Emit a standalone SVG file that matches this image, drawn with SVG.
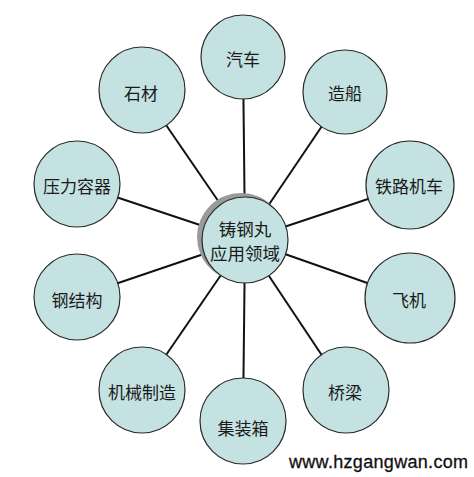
<svg xmlns="http://www.w3.org/2000/svg" width="474" height="477" viewBox="0 0 474 477">
<style>
.n{fill:#c5e2e2;stroke:#2a2a2a;stroke-width:1.2}
.t{font-family:"Noto Sans CJK SC","Noto Sans CJK JP",sans-serif;font-size:17px;fill:#1a1a1a;text-anchor:middle;dominant-baseline:central}
.c{stroke:#111;stroke-width:2}
</style>
<rect width="474" height="477" fill="#fff"/>
<g id="connectors">
<line class="c" x1="245" y1="240" x2="243" y2="57"/>
<line class="c" x1="245" y1="240" x2="345" y2="92"/>
<line class="c" x1="245" y1="240" x2="410" y2="185"/>
<line class="c" x1="245" y1="240" x2="410" y2="298"/>
<line class="c" x1="245" y1="240" x2="345" y2="390"/>
<line class="c" x1="245" y1="240" x2="243" y2="421"/>
<line class="c" x1="245" y1="240" x2="142" y2="390"/>
<line class="c" x1="245" y1="240" x2="77" y2="297"/>
<line class="c" x1="245" y1="240" x2="77" y2="184"/>
<line class="c" x1="245" y1="240" x2="142" y2="90"/>
</g>
<g id="center">
<circle cx="241" cy="237" r="44" fill="#9a9a9a"/>
<circle class="n" cx="245" cy="240" r="43"/>
<text class="t" x="245" y="228" style="font-size:17.5px">铸钢丸</text>
<text class="t" x="245" y="252" style="font-size:17.5px">应用领域</text>
</g>
<g id="n1"><circle class="n" cx="243" cy="57" r="42"/><text class="t" x="243" y="58">汽车</text></g>
<g id="n2"><circle class="n" cx="345" cy="92" r="42"/><text class="t" x="345" y="92">造船</text></g>
<g id="n3"><circle class="n" cx="410" cy="185" r="44"/><text class="t" x="409" y="185">铁路机车</text></g>
<g id="n4"><circle class="n" cx="410" cy="298" r="45"/><text class="t" x="409" y="299">飞机</text></g>
<g id="n5"><circle class="n" cx="346" cy="390" r="43"/><text class="t" x="345" y="391">桥梁</text></g>
<g id="n6"><circle class="n" cx="243" cy="421" r="43"/><text class="t" x="243" y="427">集装箱</text></g>
<g id="n7"><circle class="n" cx="142" cy="390" r="43"/><text class="t" x="142" y="391">机械制造</text></g>
<g id="n8"><circle class="n" cx="77" cy="297" r="43"/><text class="t" x="77" y="299">钢结构</text></g>
<g id="n9"><circle class="n" cx="77" cy="184" r="43"/><text class="t" x="77" y="185">压力容器</text></g>
<g id="n10"><circle class="n" cx="142" cy="90" r="43"/><text class="t" x="141" y="92">石材</text></g>
<text x="289" y="468" font-family="Liberation Sans, Arial, sans-serif" font-size="18" fill="#111" stroke="#111" stroke-width="0.3" textLength="179">www.hzgangwan.com</text>
</svg>
